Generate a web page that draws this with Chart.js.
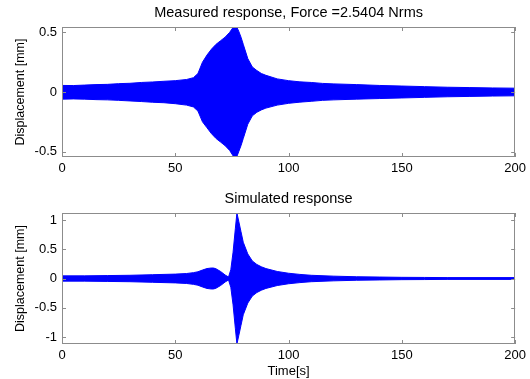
<!DOCTYPE html>
<html>
<head>
<meta charset="utf-8">
<script src="https://cdn.jsdelivr.net/npm/chart.js@4.4.1/dist/chart.umd.min.js"></script>
<style>
html, body { margin: 0; padding: 0; background: #fff; }
#wrap { position: relative; width: 530px; height: 379px; }
.box { position: absolute; left: 0; width: 530px; }
</style>
</head>
<body>
<div id="wrap">
  <div class="box" style="top:0;height:190px"><canvas id="measured"></canvas></div>
  <div class="box" style="top:190px;height:189px"><canvas id="simulated"></canvas></div>
</div>
<script>
// envelope of the measured signal (mm)
var measTime  = [0, 5, 10, 15, 20, 25, 30, 35, 40, 45, 50, 55, 58, 60, 62, 64, 66, 68, 70, 72, 74, 76, 77, 78, 79, 80, 82, 84, 86, 88, 90, 95, 100, 105, 110, 115, 120, 130, 140, 150, 160, 170, 180, 190, 200];
var measUpper = [0.055, 0.054, 0.058, 0.062, 0.064, 0.07, 0.073, 0.08, 0.084, 0.09, 0.095, 0.105, 0.12, 0.155, 0.25, 0.31, 0.36, 0.4, 0.43, 0.46, 0.5, 0.555, 0.55, 0.51, 0.46, 0.4, 0.28, 0.21, 0.18, 0.155, 0.14, 0.11, 0.095, 0.085, 0.08, 0.072, 0.068, 0.062, 0.055, 0.05, 0.045, 0.04, 0.037, 0.034, 0.032];
var measLower = [-0.06, -0.058, -0.06, -0.064, -0.066, -0.07, -0.075, -0.08, -0.086, -0.09, -0.098, -0.11, -0.125, -0.16, -0.25, -0.3, -0.35, -0.39, -0.42, -0.45, -0.49, -0.55, -0.55, -0.5, -0.45, -0.39, -0.27, -0.2, -0.17, -0.15, -0.135, -0.11, -0.095, -0.085, -0.078, -0.07, -0.066, -0.06, -0.055, -0.05, -0.045, -0.04, -0.037, -0.034, -0.032];

// envelope of the simulated signal (mm)
var simTime  = [0, 10, 20, 30, 40, 50, 55, 58, 60, 62, 64, 66, 67, 68, 70, 72, 73.5, 74.5, 75.5, 76.5, 77.2, 78, 79, 80, 82, 84, 86, 88, 90, 95, 100, 105, 110, 120, 130, 140, 150, 160, 170, 200];
var simUpper = [0.045, 0.045, 0.05, 0.055, 0.065, 0.075, 0.085, 0.1, 0.115, 0.145, 0.17, 0.18, 0.178, 0.165, 0.12, 0.06, 0.025, 0.15, 0.45, 0.85, 1.12, 0.98, 0.8, 0.62, 0.42, 0.3, 0.24, 0.2, 0.17, 0.12, 0.09, 0.07, 0.055, 0.04, 0.03, 0.025, 0.02, 0.018, 0.015, 0.015];
var simLower = [-0.045, -0.045, -0.05, -0.055, -0.065, -0.075, -0.085, -0.1, -0.115, -0.145, -0.17, -0.18, -0.178, -0.165, -0.12, -0.06, -0.025, -0.15, -0.45, -0.85, -1.12, -0.98, -0.8, -0.62, -0.42, -0.3, -0.24, -0.2, -0.17, -0.12, -0.09, -0.07, -0.055, -0.04, -0.03, -0.025, -0.02, -0.018, -0.015, -0.015];

var xTicks = [0, 50, 100, 150, 200];

Chart.defaults.font.family = '"Liberation Sans", Arial, sans-serif';
Chart.defaults.color = '#000';

function pts(t, v) {
    return t.map(function (x, i) { return { x: x, y: v[i] }; });
}

// matlab style box with inward ticks
var matlabBox = {
    id: 'matlabBox',
    afterDatasetsDraw: function (chart) {
        var ctx = chart.ctx, a = chart.chartArea;
        var xs = chart.scales.x, ys = chart.scales.y;
        ctx.save();
        ctx.strokeStyle = '#8c8c8c';
        ctx.lineWidth = 1;
        ctx.beginPath();
        xs.ticks.forEach(function (t) {
            var px = Math.round(xs.getPixelForValue(t.value)) + 0.5;
            ctx.moveTo(px, a.bottom); ctx.lineTo(px, a.bottom - 4);
            ctx.moveTo(px, a.top); ctx.lineTo(px, a.top + 4);
        });
        ys.ticks.forEach(function (t) {
            var py = Math.round(ys.getPixelForValue(t.value)) + 0.5;
            ctx.moveTo(a.left, py); ctx.lineTo(a.left + 4, py);
            ctx.moveTo(a.right, py); ctx.lineTo(a.right - 4, py);
        });
        ctx.stroke();
        ctx.strokeRect(Math.round(a.left) + 0.5, Math.round(a.top) + 0.5, Math.round(a.width) - 1, Math.round(a.height) - 1);
        ctx.restore();
    }
};

function makeChart(id, title, t, up, lo, yMax, xTitle, titlePad, xHeight) {
    var ctx = document.getElementById(id).getContext('2d');
    return new Chart(ctx,
    {
        type: 'line',
        data:
        {
            datasets:
            [
                { data: pts(t, up), borderColor: '#0000ff', backgroundColor: '#0000ff', borderWidth: 1, pointRadius: 0, fill: false },
                { data: pts(t, lo), borderColor: '#0000ff', backgroundColor: '#0000ff', borderWidth: 1, pointRadius: 0, fill: '-1' }
            ]
        },
        options:
        {
            responsive: true,
            maintainAspectRatio: false,
            animation: false,
            layout: { padding: { left: 0, right: 12, top: 0, bottom: 0 } },
            plugins:
            {
                legend: { display: false },
                tooltip: { enabled: false },
                title: { display: true, fullSize: false, text: title, font: { size: 14.5, weight: 'normal' }, padding: titlePad }
            },
            scales:
            {
                x:
                {
                    type: 'linear', min: 0, max: 200,
                    grid: { display: false, drawTicks: false }, border: { display: false },
                    afterBuildTicks: function (s) { s.ticks = xTicks.map(function (v) { return { value: v }; }); },
                    ticks: { font: { size: 13 }, padding: 4, maxRotation: 0 },
                    title: { display: !!xTitle, text: xTitle, font: { size: 13 }, padding: { top: 0, bottom: 0 } },
                    afterFit: function (s) { s.height = xHeight; }
                },
                y:
                {
                    min: -yMax, max: yMax,
                    grid: { display: false, drawTicks: false }, border: { display: false },
                    ticks: { stepSize: 0.5, includeBounds: false, font: { size: 13 }, padding: 5,
                             callback: function (v) { return String(v); } },
                    title: { display: true, text: 'Displacement [mm]', font: { size: 12.5 }, padding: { top: 13, bottom: 0 } },
                    afterFit: function (s) { s.width = 62; }
                }
            }
        },
        plugins: [matlabBox]
    });
}

makeChart('measured', 'Measured response, Force =2.5404 Nrms', measTime, measUpper, measLower, 0.545, '', { top: 4, bottom: 5.6 }, 33);
makeChart('simulated', 'Simulated response', simTime, simUpper, simLower, 1.12, 'Time[s]', { top: 0, bottom: 5.6 }, 35);
</script>
</body>
</html>
